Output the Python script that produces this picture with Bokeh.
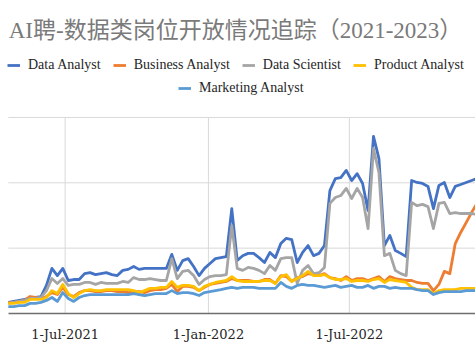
from datetime import datetime, timedelta
import pandas as pd
from bokeh.plotting import figure
from bokeh.models import (ColumnDataSource, FixedTicker, Legend, LegendItem, Label,
                          Range1d, DatetimeTickFormatter)
from bokeh.embed import file_html
from bokeh.resources import INLINE

title_text = "AI聘-数据类岗位开放情况追踪（2021-2023）"

# weekly observations starting 19-Apr-2021
first_week = datetime(2021, 4, 19)
n_weeks = 87
weeks = [first_week + timedelta(weeks=i) for i in range(n_weeks)]

data_analyst = [34, 37, 40, 43, 49, 49, 52, 86, 138, 116, 138, 101, 104, 104, 122, 125, 119, 122, 125, 119,
                116, 132, 135, 144, 135, 138, 138, 138, 138, 138, 181, 132, 162, 168, 144, 116, 138, 153, 168, 171,
                174, 321, 162, 177, 184, 184, 171, 156, 187, 171, 214, 230, 226, 156, 187, 208, 177, 184, 208, 376,
                413, 416, 438, 407, 428, 398, 315, 542, 474, 208, 239, 193, 184, 174, 407, 401, 398, 389, 321, 392,
                401, 355, 389, 395, 401, 407, 413]
business_analyst = [34, 34, 37, 40, 52, 49, 46, 52, 64, 58, 80, 58, 52, 64, 70, 70, 67, 67, 70, 70,
                    67, 67, 64, 67, 67, 64, 70, 73, 73, 77, 89, 67, 83, 83, 80, 70, 80, 89, 92, 95,
                    98, 107, 101, 101, 101, 98, 98, 104, 104, 92, 116, 113, 98, 110, 113, 122, 119, 116, 122, 110,
                    107, 101, 113, 101, 107, 107, 101, 107, 113, 98, 113, 107, 104, 101, 101, 95, 92, 92, 70, 89,
                    129, 122, 214, 248, 278, 309, 337]
data_scientist = [31, 34, 37, 40, 46, 46, 49, 70, 107, 92, 107, 86, 89, 89, 95, 95, 89, 95, 92, 92,
                  92, 98, 95, 110, 104, 104, 107, 104, 101, 101, 168, 107, 129, 132, 116, 89, 104, 113, 116, 116,
                  119, 269, 138, 132, 141, 138, 132, 122, 147, 132, 168, 171, 171, 92, 132, 147, 122, 125, 141, 337,
                  355, 361, 383, 352, 383, 355, 260, 505, 431, 177, 184, 132, 122, 116, 340, 330, 334, 327, 260, 337,
                  340, 306, 309, 306, 306, 306, 303]
product_analyst = [31, 31, 34, 34, 43, 43, 43, 49, 70, 61, 89, 61, 49, 61, 70, 73, 70, 70, 73, 73,
                   73, 73, 73, 70, 64, 70, 77, 77, 80, 80, 98, 80, 86, 86, 83, 70, 83, 89, 95, 98,
                   101, 113, 101, 98, 98, 98, 98, 101, 101, 92, 113, 119, 98, 107, 116, 129, 116, 116, 119, 110,
                   104, 104, 107, 98, 101, 101, 98, 104, 107, 95, 104, 101, 98, 95, 80, 73, 73, 73, 61, 70,
                   73, 73, 73, 77, 77, 77, 77]
marketing_analyst = [21, 21, 24, 24, 31, 31, 34, 40, 49, 37, 64, 46, 37, 49, 55, 58, 58, 58, 58, 58,
                     58, 58, 58, 61, 58, 55, 58, 61, 61, 61, 70, 61, 64, 64, 61, 55, 64, 67, 70, 73,
                     77, 80, 77, 80, 80, 80, 77, 77, 77, 77, 95, 83, 77, 86, 89, 86, 86, 83, 80, 83,
                     86, 80, 83, 86, 80, 80, 86, 77, 83, 83, 77, 80, 77, 77, 77, 73, 70, 70, 58, 64,
                     67, 67, 67, 67, 70, 70, 70]

series_names = ["Data Analyst", "Business Analyst", "Data Scientist", "Product Analyst", "Marketing Analyst"]
series_values = [data_analyst, business_analyst, data_scientist, product_analyst, marketing_analyst]
series_colors = ["#4472C4", "#ED7D31", "#A5A5A5", "#FFC000", "#5B9BD5"]

tick_dates = ["2021-07-01", "2022-01-01", "2022-07-01"]
tick_label_format = "%-d-%b-%Y"   # gives 1-Jul-2021, 1-Jan-2022, 1-Jul-2022
y_grid_values = [200, 400, 600]
y_max = 600

x_start = first_week - timedelta(days=10)
x_end = first_week + timedelta(days=600)

src = ColumnDataSource(dict(date=weeks, da=data_analyst, ba=business_analyst, ds=data_scientist,
                            pa=product_analyst, ma=marketing_analyst))
keys = ["da", "ba", "ds", "pa", "ma"]

p = figure(width=475, height=356, x_axis_type="datetime", y_axis_location=None,
           toolbar_location=None, output_backend="svg",
           x_range=Range1d(x_start, x_end),
           y_range=Range1d(0, 958),
           min_border_left=0, min_border_right=0, min_border_top=0, min_border_bottom=43)
p.outline_line_color = None
p.background_fill_color = "white"
p.border_fill_color = "white"
p.xgrid.visible = False
p.ygrid.visible = False

tick_dt = [pd.Timestamp(d).to_pydatetime() for d in tick_dates]
grid_src_v = ColumnDataSource(dict(x=tick_dt, y0=[0] * len(tick_dt), y1=[y_max] * len(tick_dt)))
p.segment(x0="x", y0="y0", x1="x", y1="y1", source=grid_src_v, line_color="#d9d9d9", line_width=1)
grid_src_h = ColumnDataSource(dict(y=y_grid_values, x0=[first_week] * len(y_grid_values),
                                   x1=[x_end] * len(y_grid_values)))
p.segment(x0="x0", y0="y", x1="x1", y1="y", source=grid_src_h, line_color="#d9d9d9", line_width=1)

renderers = []
for k, c in zip(keys, series_colors):
    renderers.append(p.line(x="date", y=k, source=src, line_color=c, line_width=2.8,
                            line_join="round"))

tick_ms = [int(pd.Timestamp(d).value // 10**6) for d in tick_dates]
ax = p.xaxis[0]
ax.ticker = FixedTicker(ticks=tick_ms)
ax.formatter = DatetimeTickFormatter(days=tick_label_format, months=tick_label_format,
                                     years=tick_label_format)
ax.bounds = (first_week, x_end)
ax.major_tick_in = 0
ax.major_tick_out = 0
ax.minor_tick_in = 0
ax.minor_tick_out = 0
ax.major_label_standoff = 13
ax.axis_line_color = "#6e6e6e"
ax.axis_line_width = 1.5
ax.major_label_text_font = "DejaVu Serif"
ax.major_label_text_font_size = "13px"
ax.major_label_text_color = "#262626"

legend_style = dict(orientation="horizontal", glyph_width=13, glyph_height=16, label_height=16,
                    label_standoff=8, spacing=12, padding=0, margin=0,
                    border_line_alpha=0, background_fill_alpha=0,
                    label_text_font="'Liberation Serif', 'Times New Roman', serif",
                    label_text_font_size="14px", label_text_color="#262626")
leg1 = Legend(items=[LegendItem(label=n, renderers=[r]) for n, r in zip(series_names[:4], renderers[:4])],
              location=(7, 240), **legend_style)
leg2 = Legend(items=[LegendItem(label=series_names[4], renderers=[renderers[4]])],
              location=(178, 217), **legend_style)
p.add_layout(leg1)
p.add_layout(leg2)

title = Label(x=235, y=283, x_units="screen", y_units="screen", text=title_text,
              text_align="center", text_baseline="middle",
              text_font="'Liberation Serif', 'Noto Sans CJK SC'", text_font_size="23px",
              text_color="#7a7a7a")
p.add_layout(title)

open("out.html", "w").write(file_html(p, INLINE))
